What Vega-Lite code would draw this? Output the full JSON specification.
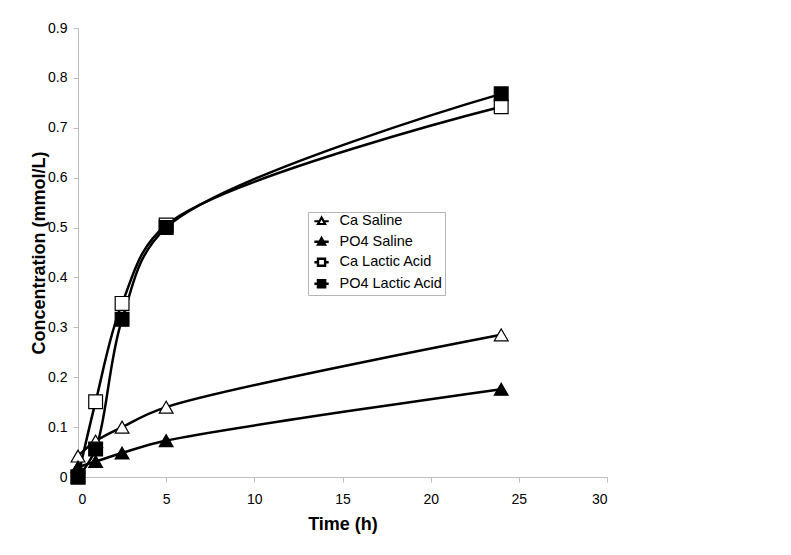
{
  "$schema": "https://vega.github.io/schema/vega-lite/v6.json",
  "width": 529,
  "height": 449,
  "autosize": {"type": "none"},
  "padding": {"left": 78, "top": 28, "right": 184, "bottom": 78},
  "background": "white",
  "config": {
    "font": "Liberation Sans",
    "view": {"stroke": null},
    "axis": {
      "grid": false,
      "domainColor": "#bdbdbd",
      "tickColor": "#bdbdbd",
      "tickSize": 5,
      "labelFont": "Liberation Sans",
      "labelFontSize": 14,
      "labelColor": "black",
      "titleFont": "Liberation Sans",
      "titleFontSize": 18,
      "titleFontWeight": "bold",
      "titleColor": "black"
    },
    "legend": {
      "orient": "none",
      "legendX": 230,
      "legendY": 184,
      "padding": 2,
      "rowPadding": 3.5,
      "labelOffset": 15,
      "labelFont": "Liberation Sans",
      "labelFontSize": 14.5,
      "labelColor": "black",
      "strokeColor": "#b5b5b5",
      "fillColor": "white"
    }
  },
  "data": {
    "values": [
      {"series": "Ca Saline", "t": 0, "c": 0.042},
      {"series": "Ca Saline", "t": 1, "c": 0.072},
      {"series": "Ca Saline", "t": 2.5, "c": 0.100},
      {"series": "Ca Saline", "t": 5, "c": 0.140},
      {"series": "Ca Saline", "t": 24, "c": 0.285},
      {"series": "PO4 Saline", "t": 0, "c": 0.020},
      {"series": "PO4 Saline", "t": 1, "c": 0.031},
      {"series": "PO4 Saline", "t": 2.5, "c": 0.048},
      {"series": "PO4 Saline", "t": 5, "c": 0.073},
      {"series": "PO4 Saline", "t": 24, "c": 0.176},
      {"series": "Ca Lactic Acid", "t": 0, "c": 0.0},
      {"series": "Ca Lactic Acid", "t": 1, "c": 0.151},
      {"series": "Ca Lactic Acid", "t": 2.5, "c": 0.348},
      {"series": "Ca Lactic Acid", "t": 5, "c": 0.505},
      {"series": "Ca Lactic Acid", "t": 24, "c": 0.742},
      {"series": "PO4 Lactic Acid", "t": 0, "c": 0.0},
      {"series": "PO4 Lactic Acid", "t": 1, "c": 0.056},
      {"series": "PO4 Lactic Acid", "t": 2.5, "c": 0.316},
      {"series": "PO4 Lactic Acid", "t": 5, "c": 0.500},
      {"series": "PO4 Lactic Acid", "t": 24, "c": 0.768}
    ]
  },
  "encoding": {
    "x": {
      "field": "t", "type": "quantitative",
      "scale": {"domain": [0, 30], "nice": false},
      "axis": {"values": [0, 5, 10, 15, 20, 25, 30], "title": "Time (h)", "labelPadding": 10, "titlePadding": 9}
    },
    "y": {
      "field": "c", "type": "quantitative",
      "scale": {"domain": [0, 0.9], "nice": false},
      "axis": {"values": [0, 0.1, 0.2, 0.3, 0.4, 0.5, 0.6, 0.7, 0.8, 0.9], "format": ".1~f", "title": "Concentration (mmol/L)", "labelPadding": 6, "titlePadding": -1}
    }
  },
  "layer": [
    {
      "mark": {"type": "line", "interpolate": "catmull-rom", "color": "black"},
      "encoding": {
        "detail": {"field": "series"},
        "strokeWidth": {
          "field": "series", "type": "nominal",
          "scale": {"domain": ["Ca Saline", "PO4 Saline", "Ca Lactic Acid", "PO4 Lactic Acid"], "range": [2.5, 2.5, 1.5, 2.8]},
          "legend": null
        }
      }
    },
    {
      "mark": {"type": "point", "filled": true, "stroke": "black", "strokeWidth": 1.2, "opacity": 1, "size": 190},
      "encoding": {
        "shape": {
          "field": "series", "type": "nominal",
          "scale": {"domain": ["Ca Saline", "PO4 Saline", "Ca Lactic Acid", "PO4 Lactic Acid"], "range": ["triangle-up", "triangle-up", "square", "square"]},
          "legend": null
        },
        "fill": {
          "field": "series", "type": "nominal",
          "scale": {"domain": ["Ca Saline", "PO4 Saline", "Ca Lactic Acid", "PO4 Lactic Acid"], "range": ["white", "black", "white", "black"]},
          "legend": null
        }
      }
    },
    {
      "transform": [{"filter": "datum.t < 0"}],
      "mark": {"type": "point", "filled": true, "stroke": "black", "opacity": 1, "size": 196},
      "encoding": {
        "shape": {
          "field": "series", "type": "nominal",
          "scale": {"domain": ["Ca Saline", "PO4 Saline", "Ca Lactic Acid", "PO4 Lactic Acid"], "range": [
            "M-0.57,0H0.45M1.27,0H2.29M0.86,-0.75L1.57,0.55L0.15,0.55Z",
            "M-0.57,0H0.45M1.27,0H2.29M0.86,-0.75L1.57,0.55L0.15,0.55Z",
            "M-0.57,0H0.15M1.57,0H2.29M0.15,-0.71H1.57V0.71H0.15Z",
            "M-0.57,0H0.15M1.57,0H2.29M0.15,-0.71H1.57V0.71H0.15Z"
          ]},
          "legend": {"title": null}
        },
        "fill": {
          "field": "series", "type": "nominal",
          "scale": {"domain": ["Ca Saline", "PO4 Saline", "Ca Lactic Acid", "PO4 Lactic Acid"], "range": ["white", "black", "white", "black"]},
          "legend": {"title": null}
        },
        "strokeWidth": {
          "field": "series", "type": "nominal",
          "scale": {"domain": ["Ca Saline", "PO4 Saline", "Ca Lactic Acid", "PO4 Lactic Acid"], "range": [2.2, 2.5, 1.3, 2.5]},
          "legend": {"title": null}
        }
      }
    }
  ],
  "resolve": {"scale": {"shape": "independent", "fill": "independent", "strokeWidth": "independent"}}
}
